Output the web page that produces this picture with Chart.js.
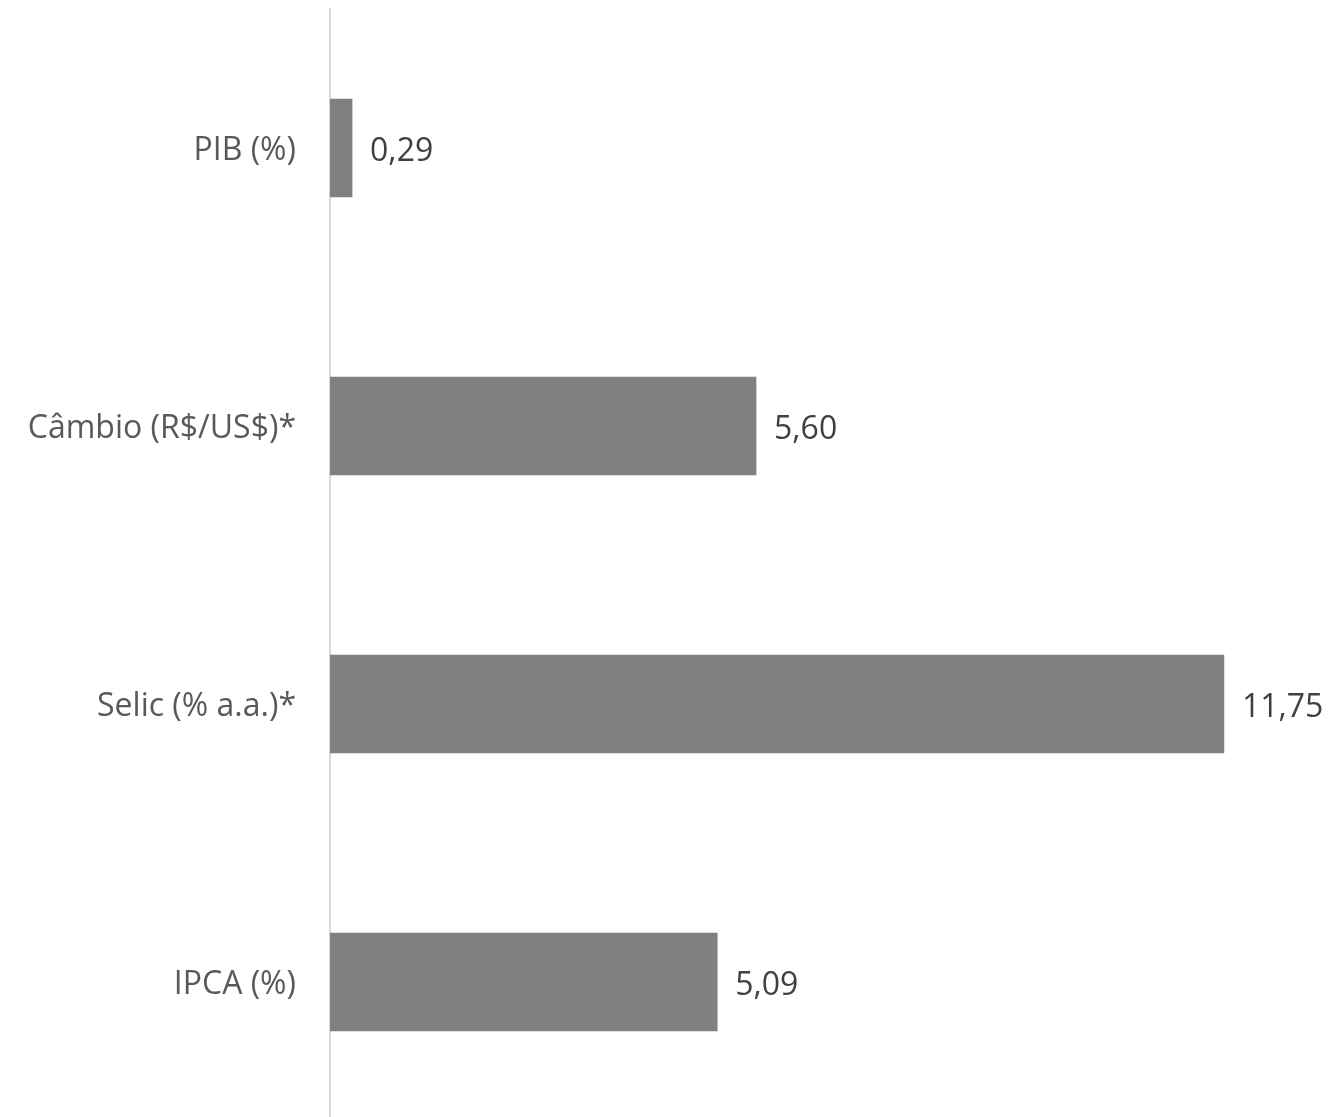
<!DOCTYPE html>
<html>
<head>
<meta charset="utf-8">
<script src="https://cdn.jsdelivr.net/npm/chart.js@4/dist/chart.umd.min.js"></script>
<style>
  html, body { margin: 0; padding: 0; background: #ffffff; overflow: hidden; }
  #wrap { position: relative; width: 1329px; height: 1121px; }
</style>
</head>
<body>
<div id="wrap"><canvas id="chart"></canvas></div>
<script>
// Chart data
const categories = ['PIB (%)', 'Câmbio (R$/US$)*', 'Selic (% a.a.)*', 'IPCA (%)'];
const values = [0.29, 5.60, 11.75, 5.09];
const valueLabels = ['0,29', '5,60', '11,75', '5,09'];

const FONT = '"Open Sans", sans-serif';

// Draws the value next to the end of each bar
const barValuePlugin = {
    id: 'barValues',
    afterDatasetsDraw(chart) {
        const ctx = chart.ctx;
        const meta = chart.getDatasetMeta(0);
        ctx.save();
        ctx.font = '32px ' + FONT;
        ctx.fillStyle = '#404040';
        ctx.textAlign = 'left';
        ctx.textBaseline = 'middle';
        meta.data.forEach((bar, i) => {
            ctx.fillText(valueLabels[i], bar.x + 18, bar.y + 4);
        });
        ctx.restore();
    }
};

new Chart(document.getElementById('chart').getContext('2d'), {
    type: 'bar',
    data: {
        labels: categories,
        datasets: [{
            data: values,
            backgroundColor: '#808080',
            borderWidth: 0,
            barThickness: 98
        }]
    },
    options: {
        indexAxis: 'y',
        responsive: true,
        maintainAspectRatio: false,
        animation: false,
        layout: { padding: { top: 9, right: 10, bottom: 0, left: 0 } },
        plugins: {
            legend: { display: false },
            tooltip: { enabled: false }
        },
        scales: {
            x: {
                display: false,
                min: 0,
                max: 13
            },
            y: {
                grid: { display: false, drawTicks: false },
                border: { display: true, color: '#d9d9d9', width: 2 },
                ticks: {
                    color: '#595959',
                    padding: 34,
                    labelOffset: 3,
                    font: { family: FONT, size: 32 }
                },
                afterFit(scale) {
                    // fixed axis width, no extra vertical padding from the tick padding
                    scale.width = 330;
                    scale.paddingTop = 0;
                    scale.paddingBottom = 0;
                }
            }
        }
    },
    plugins: [barValuePlugin]
});
</script>
</body>
</html>
